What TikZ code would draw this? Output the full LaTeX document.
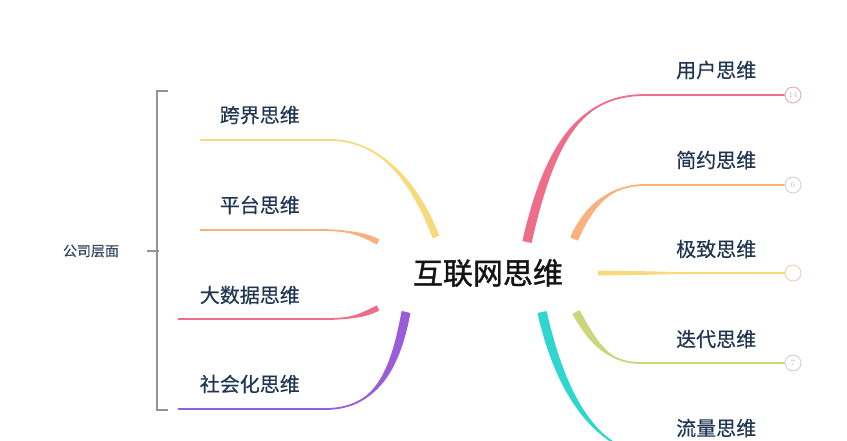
\documentclass[tikz,border=0pt]{standalone}
\usepackage{fontspec}
\newfontfamily\cjk[FakeBold=0.4]{Noto Sans CJK SC}
\newfontfamily\cjkroot[FakeBold=1.2]{Noto Sans CJK SC}
\usetikzlibrary{calc}
\definecolor{ink}{HTML}{1F3552}
\definecolor{rose}{HTML}{EE6E8A}
\definecolor{peach}{HTML}{F8B07C}
\definecolor{straw}{HTML}{F7D97E}
\definecolor{lime}{HTML}{C9D77A}
\definecolor{aqua}{HTML}{2ED6CF}
\definecolor{violet}{HTML}{9B5CD8}
\definecolor{badgeline}{HTML}{D6CDD0}
\definecolor{badgetext}{HTML}{BDBDBD}
\begin{document}
\begin{tikzpicture}[x=1pt, y=-1pt,
    topic/.style={font=\cjk\fontsize{20}{24}\selectfont, text=ink, inner sep=0pt},
    badge/.style={circle, draw=badgeline, line width=0.9pt, minimum size=16pt, inner sep=0pt,
        fill=white, text=badgetext, font=\fontsize{8}{8}\selectfont},
    bracket/.style={draw=gray!85, line width=1.4pt}]
    \def\branch#1#2#3#4#5#6#7{%
        \fill[#1] ($#2-(#7)$) .. controls ($#3-(#7)$) and #4 .. #5
            .. controls #4 and ($#3+(#7)$) .. ($#2+(#7)$) -- cycle;
        \draw[#1, line width=1.8pt] #2 .. controls #3 and #4 .. #5 -- #6;
    }

    \useasboundingbox (0,0) rectangle (847,440);

    \node[font=\cjkroot\fontsize{30}{36}\selectfont, text=black!92] (root) at (488,273) {互联网思维};

    \node[topic, anchor=west] (user) at (676,70) {用户思维};
    \node[topic, anchor=west] (simple) at (676,160) {简约思维};
    \node[topic, anchor=west] (extreme) at (676,249) {极致思维};
    \node[topic, anchor=west] (iterate) at (676,339) {迭代思维};
    \node[topic, anchor=west] (traffic) at (676,428) {流量思维};

    \node[topic, anchor=east] (cross) at (300,115) {跨界思维};
    \node[topic, anchor=east] (platform) at (300,205) {平台思维};
    \node[topic, anchor=east] (bigdata) at (300,295) {大数据思维};
    \node[topic, anchor=east] (social) at (300,384) {社会化思维};

    \node[badge, draw=rose!35!badgeline] (b1) at (793,95) {14};
    \node[badge] (b2) at (793,185) {6};
    \node[badge, draw=straw!40!badgeline] (b3) at (793,273) {};
    \node[badge] (b4) at (793,363) {7};

    \branch{rose}{(527,242)}{(550,140)}{(582,95)}{(645,95)}{(b1.west)}{4.6,1.0}

    \branch{peach}{(574,239)}{(590,203)}{(612,185)}{(645,185)}{(b2.west)}{3.8,1.7}

    \branch{straw}{(598,273)}{(640,273)}{(700,273)}{(740,273)}{(b3.west)}{0,2.4}

    \branch{lime}{(576,312)}{(594,345)}{(610,363)}{(640,363)}{(b4.west)}{3.6,-1.9}

    \branch{aqua}{(542,312)}{(562,400)}{(600,456)}{(660,456)}{(785,456)}{4.6,-0.9}

    \branch{straw}{(436,237)}{(418,190)}{(385,140)}{(330,140)}{(200,140)}{3.4,-1.3}

    \branch{peach}{(378,242)}{(365,235)}{(350,230)}{(320,230)}{(200,230)}{1.2,-2.6}

    \branch{rose}{(378,308)}{(362,316)}{(350,319)}{(325,319)}{(178,319)}{1.2,2.6}

    \branch{violet}{(406,312)}{(395,372)}{(375,409)}{(325,409)}{(178,409)}{4.4,1.0}

    \node[font=\cjk\fontsize{14}{16}\selectfont, text=ink!90] (corp) at (91,251) {公司层面};
    \draw[bracket] ($(corp.east)+(24,0)$) -- ++(12,0);
    \draw[bracket] (168,91) -- (157,91) -- (157,410) -- (168,410);
\end{tikzpicture}
\end{document}
